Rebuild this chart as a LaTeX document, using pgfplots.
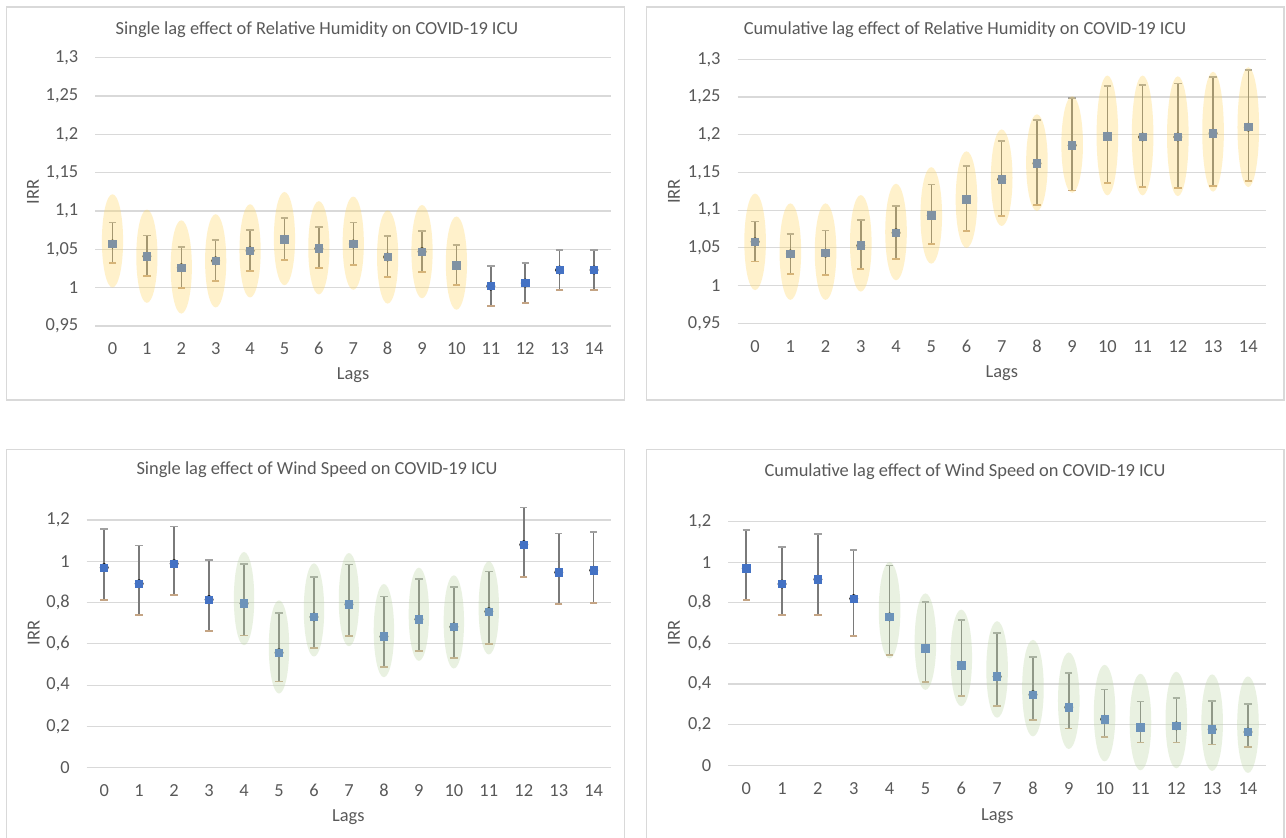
\documentclass[border=0pt]{standalone}
\usepackage{fontspec}
\setmainfont{Carlito}
\usepackage{pgfplots}
\usepackage{pgfplotstable}
\pgfplotsset{compat=1.18}
\definecolor{gridc}{HTML}{D9D9D9}
\definecolor{labc}{HTML}{595959}
\definecolor{ptc}{HTML}{4472C4}
\definecolor{barc}{HTML}{7A7A7A}
\definecolor{capu}{HTML}{A0A0A0}
\definecolor{capl}{HTML}{C4A484}
\definecolor{yelc}{HTML}{FFD660}
\definecolor{grnc}{HTML}{BED7A6}
\definecolor{framec}{HTML}{D9D9D9}

\pgfplotstableread{
x y hi lo
0 1.057 1.085 1.032
1 1.041 1.068 1.015
2 1.026 1.053 1.000
3 1.035 1.062 1.009
4 1.048 1.075 1.022
5 1.063 1.091 1.036
6 1.051 1.079 1.026
7 1.057 1.085 1.030
8 1.040 1.067 1.014
9 1.047 1.074 1.020
10 1.029 1.056 1.003
11 1.002 1.028 0.976
12 1.006 1.032 0.980
13 1.023 1.049 0.997
14 1.023 1.049 0.997
}\tA
\pgfplotstableread{
x c
0 1.061
1 1.041
2 1.027
3 1.035
4 1.048
5 1.064
6 1.052
7 1.058
8 1.040
9 1.047
10 1.032
}\eA

\pgfplotstableread{
x y hi lo
0 1.058 1.085 1.032
1 1.042 1.068 1.015
2 1.043 1.073 1.014
3 1.053 1.087 1.022
4 1.070 1.106 1.035
5 1.093 1.134 1.055
6 1.114 1.159 1.072
7 1.141 1.192 1.092
8 1.162 1.219 1.107
9 1.186 1.249 1.126
10 1.198 1.265 1.136
11 1.197 1.266 1.131
12 1.197 1.268 1.129
13 1.202 1.276 1.132
14 1.210 1.286 1.139
}\tB
\pgfplotstableread{
x c
0 1.058
1 1.045
2 1.045
3 1.056
4 1.071
5 1.093
6 1.114
7 1.143
8 1.163
9 1.187
}\eB
\pgfplotstableread{
x c
10 1.199
11 1.199
12 1.198
13 1.204
14 1.210
}\eBb

\pgfplotstableread{
x y hi lo
0 0.969 1.156 0.812
1 0.891 1.076 0.738
2 0.988 1.168 0.837
3 0.814 1.005 0.662
4 0.795 0.987 0.640
5 0.557 0.748 0.417
6 0.730 0.925 0.578
7 0.791 0.984 0.638
8 0.635 0.829 0.488
9 0.719 0.914 0.567
10 0.682 0.877 0.531
11 0.756 0.950 0.601
12 1.080 1.260 0.925
13 0.946 1.134 0.791
14 0.956 1.143 0.799
}\tC
\pgfplotstableread{
x c
4 0.819
5 0.585
6 0.764
7 0.814
8 0.664
9 0.743
10 0.706
11 0.774
}\eC

\pgfplotstableread{
x y hi lo
0 0.970 1.161 0.814
1 0.893 1.077 0.741
2 0.916 1.138 0.741
3 0.821 1.062 0.637
4 0.731 0.984 0.544
5 0.575 0.806 0.411
6 0.493 0.716 0.342
7 0.437 0.650 0.294
8 0.348 0.534 0.225
9 0.286 0.455 0.181
10 0.227 0.373 0.140
11 0.186 0.314 0.112
12 0.194 0.333 0.112
13 0.177 0.317 0.102
14 0.164 0.302 0.090
}\tD
\pgfplotstableread{
x c
4 0.764
5 0.609
6 0.529
7 0.472
8 0.380
9 0.318
10 0.257
11 0.213
12 0.223
13 0.210
14 0.200
}\eD

\pgfplotsset{
  lagax/.style={
    scale only axis, anchor=south west,
    xmin=-0.5, xmax=14.5, xtick={0,...,14},
    axis line style={draw=none}, major tick length=0pt, tick style={draw=none},
    ymajorgrids, grid style={draw=gridc, line width=0.6pt},
    tick label style={font=\fontsize{9.2}{11}\selectfont, text=labc},
    /pgf/number format/assume math mode=true,
    /pgf/number format/use comma,
    xticklabel style={anchor=base, inner sep=0pt, yshift=-14.5pt},
    yticklabel style={anchor=east, inner sep=0pt, xshift=-8.3pt},
    clip=false,
  },
  lowbar/.style={only marks, mark=none, forget plot,
    error bars/.cd, y dir=minus, y explicit,
    error bar style={draw=barc, line width=0.75pt},
    error mark options={rotate=90, draw=capl, mark size=1.85pt, line width=0.9pt}},
  upbar/.style={only marks, mark=square*, mark size=1.85pt,
    mark options={fill=ptc, draw=ptc},
    error bars/.cd, y dir=plus, y explicit,
    error bar style={draw=barc, line width=0.75pt},
    error mark options={rotate=90, draw=capu, mark size=1.85pt, line width=0.9pt}},
}

\begin{document}
\begin{tikzpicture}
\path[fill=white,use as bounding box] (0,0) rectangle (643pt,419pt);
\draw[framec, line width=0.6pt] (3.15pt,219pt) rectangle (312.25pt,415.5pt);
\draw[framec, line width=0.6pt] (323.35pt,219pt) rectangle (642pt,415.5pt);
\draw[framec, line width=0.6pt] (312.25pt,-5pt) -- (312.25pt,194.25pt) -- (3.15pt,194.25pt) -- (3.15pt,-5pt);
\draw[framec, line width=0.6pt] (642pt,-5pt) -- (642pt,194.25pt) -- (323.35pt,194.25pt) -- (323.35pt,-5pt);

% Panel 1
\begin{axis}[lagax, at={(47.65pt,256pt)}, width=257.95pt, height=134.15pt,
  ymin=0.95, ymax=1.3, ytick={0.95,1,1.05,1.1,1.15,1.2,1.25,1.3}]
\addplot[lowbar] table[x=x, y=y, y error minus expr=\thisrow{y}-\thisrow{lo}] {\tA};
\addplot[upbar] table[x=x, y=y, y error plus expr=\thisrow{hi}-\thisrow{y}] {\tA};
\addplot[only marks, mark=*, mark size=5.3pt, draw opacity=0, mark options={draw opacity=0, fill=yelc, fill opacity=0.32, yscale=4.4}] table[x=x, y=c] {\eA};
\end{axis}

% Panel 2
\begin{axis}[lagax, at={(368.75pt,257.35pt)}, width=264.2pt, height=132pt,
  ymin=0.95, ymax=1.3, ytick={0.95,1,1.05,1.1,1.15,1.2,1.25,1.3}]
\addplot[lowbar] table[x=x, y=y, y error minus expr=\thisrow{y}-\thisrow{lo}] {\tB};
\addplot[upbar] table[x=x, y=y, y error plus expr=\thisrow{hi}-\thisrow{y}] {\tB};
\addplot[only marks, mark=*, mark size=5.4pt, draw opacity=0, mark options={draw opacity=0, fill=yelc, fill opacity=0.32, yscale=4.47}] table[x=x, y=c] {\eB};
\addplot[only marks, mark=*, mark size=5.4pt, draw opacity=0, mark options={draw opacity=0, fill=yelc, fill opacity=0.32, yscale=5.55}] table[x=x, y=c] {\eBb};
\end{axis}

% Panel 3
\begin{axis}[lagax, at={(43.35pt,35.15pt)}, width=262.25pt, height=134.2pt,
  ymin=0, ymax=1.3, ytick={0,0.2,0.4,0.6,0.8,1,1.2}]
\addplot[lowbar] table[x=x, y=y, y error minus expr=\thisrow{y}-\thisrow{lo}] {\tC};
\addplot[upbar] table[x=x, y=y, y error plus expr=\thisrow{hi}-\thisrow{y}] {\tC};
\addplot[only marks, mark=*, mark size=5.1pt, draw opacity=0, mark options={draw opacity=0, fill=grnc, fill opacity=0.33, yscale=4.57}] table[x=x, y=c] {\eC};
\end{axis}

% Panel 4
\begin{axis}[lagax, at={(364.15pt,36.35pt)}, width=268.8pt, height=131.95pt,
  ymin=0, ymax=1.3, ytick={0,0.2,0.4,0.6,0.8,1,1.2}]
\addplot[lowbar] table[x=x, y=y, y error minus expr=\thisrow{y}-\thisrow{lo}] {\tD};
\addplot[upbar] table[x=x, y=y, y error plus expr=\thisrow{hi}-\thisrow{y}] {\tD};
\addplot[only marks, mark=*, mark size=5.4pt, draw opacity=0, mark options={draw opacity=0, fill=grnc, fill opacity=0.33, yscale=4.47}] table[x=x, y=c] {\eD};
\end{axis}

\begin{scope}[every node/.style={text=labc, inner sep=0pt}]
\node[font=\fontsize{9.2}{11}\selectfont] at (158.5pt,404.35pt) {Single lag effect of Relative Humidity on COVID-19 ICU};
\node[font=\fontsize{9.2}{11}\selectfont] at (482.5pt,404.35pt) {Cumulative lag effect of Relative Humidity on COVID-19 ICU};
\node[font=\fontsize{9.2}{11}\selectfont] at (158.5pt,184pt) {Single lag effect of Wind Speed on COVID-19 ICU};
\node[font=\fontsize{9.2}{11}\selectfont] at (482.5pt,183.15pt) {Cumulative lag effect of Wind Speed on COVID-19 ICU};
\node[font=\fontsize{9.2}{11}\selectfont] at (176.5pt,231.5pt) {Lags};
\node[font=\fontsize{9.2}{11}\selectfont] at (500.9pt,232.5pt) {Lags};
\node[font=\fontsize{9.2}{11}\selectfont] at (174.15pt,10.65pt) {Lags};
\node[font=\fontsize{9.2}{11}\selectfont] at (498.65pt,11.15pt) {Lags};
\node[font=\fontsize{9.2}{11}\selectfont, rotate=90] at (16.5pt,323pt) {IRR};
\node[font=\fontsize{9.2}{11}\selectfont, rotate=90] at (337pt,323.15pt) {IRR};
\node[font=\fontsize{9.2}{11}\selectfont, rotate=90] at (16.8pt,102.5pt) {IRR};
\node[font=\fontsize{9.2}{11}\selectfont, rotate=90] at (337pt,102.5pt) {IRR};
\end{scope}
\end{tikzpicture}
\end{document}
